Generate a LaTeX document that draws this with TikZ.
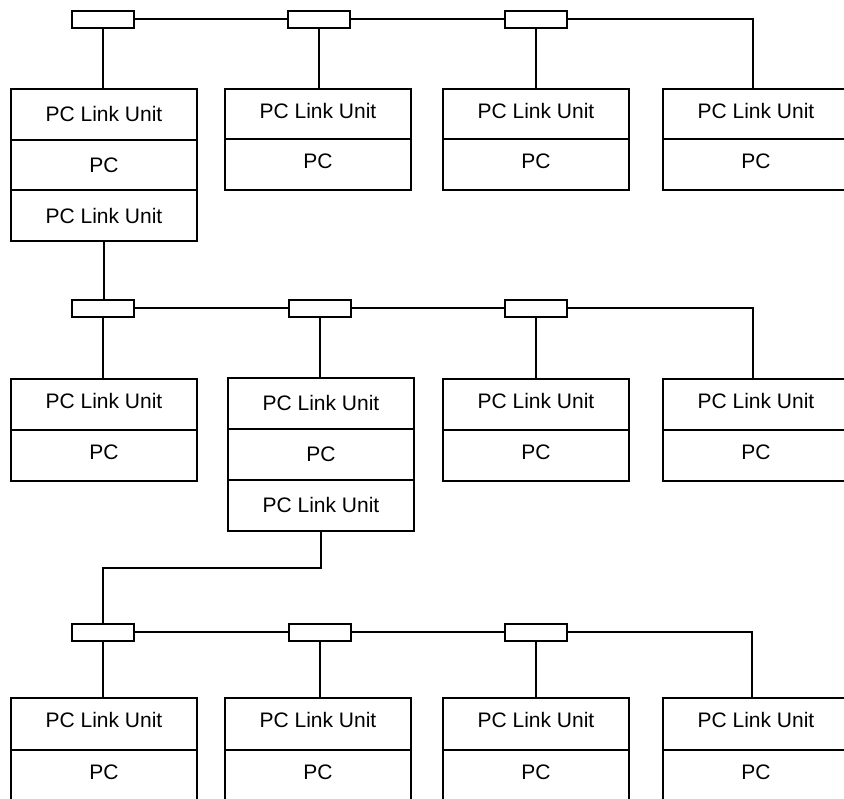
\documentclass[tikz,border=0pt]{standalone}
\usepackage{fontspec}
\setmainfont{Liberation Sans}
\begin{document}
\begin{tikzpicture}[x=1pt,y=-1pt,
  sect/.style={draw, line width=2pt, minimum width=186pt, minimum height=#1, inner sep=0pt, anchor=north west, text height=15pt, text depth=0pt, font=\fontsize{21}{25}\selectfont},
  sect/.default=51pt,
  hi/.style={text depth=7pt},
  conn/.style={draw, line width=2pt, minimum width=62pt, minimum height=17pt, inner sep=0pt},
  bus/.style={line width=2pt}]
\useasboundingbox (0,0) rectangle (844,799);
% ---------- top row ----------
\node[conn] (tc1) at (103,19.5) {};
\node[conn] (tc2) at (319,19.5) {};
\node[conn] (tc3) at (536,19.5) {};
\coordinate (tk) at (753,19.5);
\node[sect=50.7pt] (t1a) at (10,88) {PC Link Unit};
\node[sect=50.7pt] (t1b) at (10,138.7) {PC};
\node[sect=50.7pt] (t1c) at (10,189.4) {PC Link Unit};
\node[sect=50.5pt,hi] (t2a) at (224,88) {PC Link Unit};
\node[sect=50.5pt,hi] (t2b) at (224,138.5) {PC};
\node[sect=50.5pt,hi] (t3a) at (442,88) {PC Link Unit};
\node[sect=50.5pt,hi] (t3b) at (442,138.5) {PC};
\node[sect=50.5pt,hi] (t4a) at (662,88) {PC Link Unit};
\node[sect=50.5pt,hi] (t4b) at (662,138.5) {PC};
\draw[bus] (tc1.east) -- (tc2.west);
\draw[bus] (tc2.east) -- (tc3.west);
\draw[bus] (tc3.east) -- (tk) -- (tk |- t4a.north);
\draw[bus] (tc1.south) -- (tc1.south |- t1a.north);
\draw[bus] (tc2.south) -- (tc2.south |- t2a.north);
\draw[bus] (tc3.south) -- (tc3.south |- t3a.north);
% ---------- middle row ----------
\node[conn] (mc1) at (103,308.5) {};
\node[conn] (mc2) at (319.5,308.5) {};
\node[conn] (mc3) at (536,308.5) {};
\coordinate (mk) at (753,308.5);
\node[sect,hi] (m1a) at (10,378) {PC Link Unit};
\node[sect,hi] (m1b) at (10,429) {PC};
\node[sect] (m2a) at (227,377) {PC Link Unit};
\node[sect] (m2b) at (227,428) {PC};
\node[sect] (m2c) at (227,479) {PC Link Unit};
\node[sect,hi] (m3a) at (442,378) {PC Link Unit};
\node[sect,hi] (m3b) at (442,429) {PC};
\node[sect,hi] (m4a) at (662,378) {PC Link Unit};
\node[sect,hi] (m4b) at (662,429) {PC};
\draw[bus] (t1c.south) -- (t1c.south |- mc1.north);
\draw[bus] (mc1.east) -- (mc2.west);
\draw[bus] (mc2.east) -- (mc3.west);
\draw[bus] (mc3.east) -- (mk) -- (mk |- m4a.north);
\draw[bus] (mc1.south) -- (mc1.south |- m1a.north);
\draw[bus] (mc2.south) -- (mc2.south |- m2a.north);
\draw[bus] (mc3.south) -- (mc3.south |- m3a.north);
% ---------- bottom row ----------
\node[conn] (bc1) at (102.5,632) {};
\node[conn] (bc2) at (319.5,632) {};
\node[conn] (bc3) at (536,632) {};
\coordinate (bk) at (752,632);
\coordinate (jog) at (102.5,568);
\node[sect=51.5pt,hi] (b1a) at (10,697) {PC Link Unit};
\node[sect=51.5pt,hi] (b1b) at (10,748.5) {PC};
\node[sect=51.5pt,hi] (b2a) at (224,697) {PC Link Unit};
\node[sect=51.5pt,hi] (b2b) at (224,748.5) {PC};
\node[sect=51.5pt,hi] (b3a) at (442,697) {PC Link Unit};
\node[sect=51.5pt,hi] (b3b) at (442,748.5) {PC};
\node[sect=51.5pt,hi] (b4a) at (662,697) {PC Link Unit};
\node[sect=51.5pt,hi] (b4b) at (662,748.5) {PC};
\draw[bus] (m2c.south) |- (jog) -- (bc1.north);
\draw[bus] (bc1.east) -- (bc2.west);
\draw[bus] (bc2.east) -- (bc3.west);
\draw[bus] (bc3.east) -- (bk) -- (bk |- b4a.north);
\draw[bus] (bc1.south) -- (bc1.south |- b1a.north);
\draw[bus] (bc2.south) -- (bc2.south |- b2a.north);
\draw[bus] (bc3.south) -- (bc3.south |- b3a.north);
\end{tikzpicture}
\end{document}
